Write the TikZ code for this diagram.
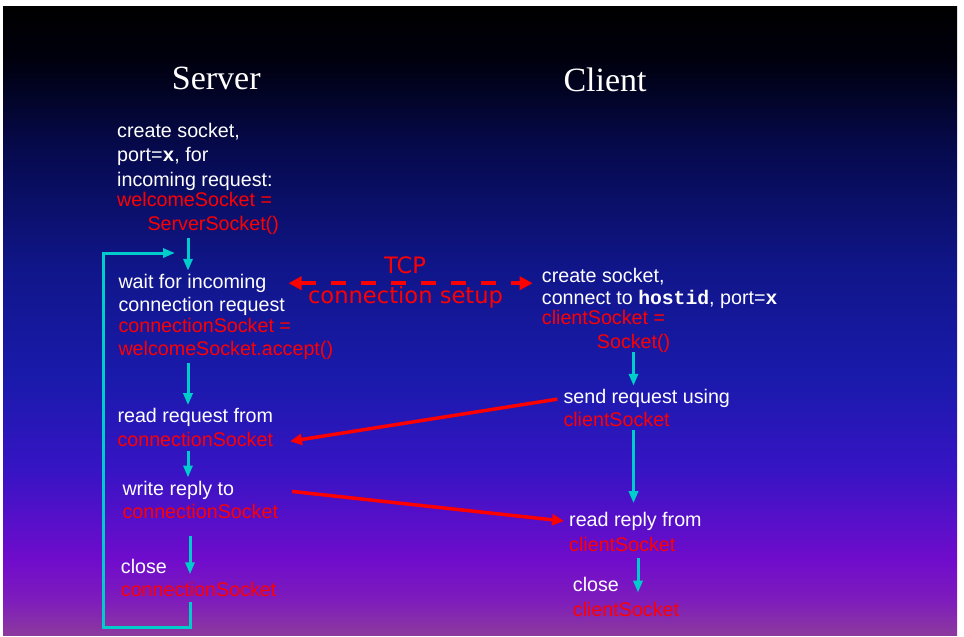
\documentclass[tikz,border=0pt]{standalone}
\usepackage{fontspec}
\usetikzlibrary{arrows.meta}
\setmainfont{Liberation Sans}
\newfontfamily\titlefont{Liberation Serif}
\newfontfamily\codefont{Liberation Mono}
\newfontfamily\tcpfont{DejaVu Sans}
\newcommand{\code}[1]{{\codefont\bfseries #1}}

\definecolor{flowcyan}{RGB}{0,204,204}
\definecolor{bgA}{RGB}{0,0,0}
\definecolor{bgB}{RGB}{0,0,14}
\definecolor{bgC}{RGB}{6,10,78}
\definecolor{bgD}{RGB}{16,22,138}
\definecolor{bgE}{RGB}{26,26,172}
\definecolor{bgF}{RGB}{55,20,196}
\definecolor{bgG}{RGB}{112,12,204}
\definecolor{bgH}{RGB}{126,28,188}
\definecolor{bgI}{RGB}{140,58,158}
\pgfdeclareverticalshading{slidebg}{100bp}{%
  color(0bp)=(bgI); color(25bp)=(bgI); color(27.78bp)=(bgH);
  color(30.96bp)=(bgG); color(38.1bp)=(bgF); color(45.27bp)=(bgE);
  color(54bp)=(bgD); color(63.55bp)=(bgC); color(70.7bp)=(bgB);
  color(75bp)=(bgA); color(100bp)=(bgA)}

\begin{document}
\begin{tikzpicture}[x=1pt,y=1pt]
\tikzstyle{every node}+=[inner sep=0pt]
\tikzstyle{txt}=[anchor=base west, text=white, font=\fontsize{19.7}{23.4}\selectfont]
\tikzstyle{redtxt}=[txt, text=red]
\tikzstyle{title}=[anchor=base west, text=white, font=\titlefont\fontsize{34}{40}\selectfont]
\tikzstyle{tcptxt}=[anchor=base, text=red, font=\tcpfont\fontsize{22.6}{27}\selectfont]
\tikzstyle{flow}=[flowcyan, line width=3pt, -{Triangle[width=9pt,length=12pt]}, shorten <=3pt, shorten >=3pt]
\tikzstyle{msg}=[red, line width=3.5pt, -{Triangle[width=11pt,length=12pt]}]
\tikzstyle{setup}=[red, line width=4pt, dash pattern=on 15pt off 15pt, {Triangle[width=13pt,length=13pt]}-{Triangle[width=13pt,length=13pt]}]
% background
\fill [white] (0,0) rectangle (964,-637);
\shade [shading=slidebg] (3,-6) rectangle (957,-635);
% titles
\node (server) [title] at (171.7,-89.3) {Server};
\node (client) [title] at (563.3,-91.5) {Client};
% server side
\node (s1) [txt] at (117,-137.3) {create socket,};
\node (s2) [txt] at (117,-161.7) {port=\code{x}, for};
\node (s3) [txt] at (117,-186) {incoming request:};
\node (s4) [redtxt] at (117,-206.7) {welcomeSocket =};
\node (s5) [redtxt] at (147.3,-230.7) {ServerSocket()};
\node (w1) [txt] at (118.3,-288.3) {wait for incoming};
\node (w2) [txt] at (118.3,-311.7) {connection request};
\node (w3) [redtxt] at (118.3,-332.7) {connectionSocket =};
\node (w4) [redtxt] at (118.3,-355.7) {welcomeSocket.accept()};
\node (r1) [txt] at (117.3,-422.7) {read request from};
\node (r2) [redtxt] at (117.3,-446) {connectionSocket};
\node (wr1) [txt] at (122.3,-495) {write reply to};
\node (wr2) [redtxt] at (122.3,-518.3) {connectionSocket};
\node (c1) [txt] at (120.7,-573.3) {close};
\node (c2) [redtxt] at (120.7,-596.7) {connectionSocket};
% client side
\node (k1) [txt] at (541.7,-282.3) {create socket,};
\node (k2) [txt] at (541.7,-304) {connect to \code{hostid}, port=\code{x}};
\node (k3) [redtxt] at (541.7,-324) {clientSocket =};
\node (k4) [redtxt] at (596.7,-348) {Socket()};
\node (q1) [txt] at (563.3,-403.3) {send request using};
\node (q2) [redtxt] at (563.3,-426.7) {clientSocket};
\node (p1) [txt] at (569,-526.7) {read reply from};
\node (p2) [redtxt] at (569,-551) {clientSocket};
\node (e1) [txt] at (572.7,-591.7) {close};
\node (e2) [redtxt] at (572.7,-616) {clientSocket};
% tcp setup label
\node (tcp) [tcptxt] at (405,-273.3) {TCP};
\node (setup) [tcptxt] at (405.5,-303) {connection setup};
% columns for the flow arrows
\coordinate (srv) at (188,0);
\coordinate (srvb) at (190,0);
\coordinate (cli) at (633.5,0);
\coordinate (clib) at (638,0);
\coordinate (corner) at (103,-627);
\coordinate (back) at (175,-253);
% server flow
\draw [flow] (s5.south -| srv) -- (w1.north -| srv);
\draw [flow] (w4.south -| srv) -- (r1.north -| srv);
\draw [flow, shorten <=5pt] (r2.south -| srv) -- (wr1.north -| srv);
\draw [flow, shorten <=17pt, shorten >=-1pt] (wr2.south -| srvb) -- (c1.base -| srvb);
\draw [flow, shorten <=5pt, shorten >=0pt] (c2.south -| srvb) |- (corner) |- (back);
% client flow
\draw [flow, shorten <=0pt] (k4.south -| cli) -- (q1.north -| cli);
\draw [flow, shorten >=9pt] (q2.south -| cli) -- (p1.north -| cli);
\draw [flow, shorten <=7pt, shorten >=-1pt] (p2.south -| clib) -- (e1.base -| clib);
% messages
\draw [setup, shorten <=22pt, shorten >=9pt] (w1.east) -- (w1.east -| k1.west);
\draw [msg, shorten <=6pt, shorten >=17pt] (q1.west) -- ([yshift=-5pt]r2.east);
\draw [msg, shorten <=14pt, shorten >=5pt] (wr2.east |- wr1.east) -- (p1.west);
\end{tikzpicture}
\end{document}
